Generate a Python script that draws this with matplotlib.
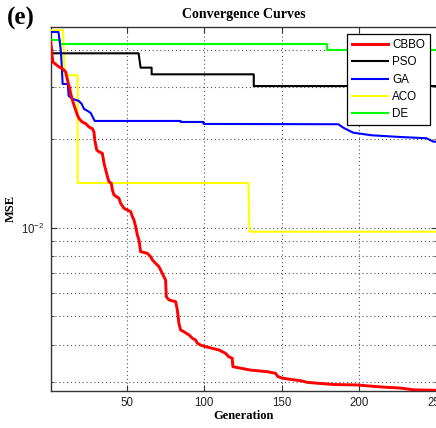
import matplotlib
matplotlib.use("Agg")
import matplotlib.pyplot as plt
from matplotlib.ticker import LogLocator, FixedLocator, NullFormatter, FixedFormatter

# ---------------- data ----------------
cbbo_gen = [1, 1.8, 2.5, 6.4, 8.6, 10.7, 11.1, 12.4, 13.3, 13.9, 15.0, 16.0, 17.1, 18.2, 19.3,
            21.4, 23.6, 25.7, 27.9, 28.9, 29.4, 30.7, 32.1, 34.3, 35.4, 36.5, 37.6, 38.6, 40.1,
            40.8, 41.8, 45.0, 46.1, 48.3, 50.5, 52.6, 53.7, 54.7, 55.8, 56.9, 57.9, 59.0, 63.3,
            65.5, 66.6, 68.7, 70.8, 71.9, 74.0, 75.1, 75.6, 77.3, 81.6, 82.7, 83.7, 84.8, 86.9,
            90.2, 92.4, 94.5, 95.6, 97.7, 100.9, 105.2, 109.5, 113.8, 115.9, 118.1, 118.5, 123.5,
            129.9, 140.7, 146.0, 147.5, 150.4, 155.7, 162.2, 166.5, 172.9, 183.6, 198.7, 205.2,
            215.9, 226.6, 235.2, 250]
cbbo_mse = [0.0426, 0.0385, 0.0364, 0.03505, 0.03459, 0.03371, 0.03285, 0.03077, 0.02960,
            0.02846, 0.02710, 0.02605, 0.02506, 0.02410, 0.02342, 0.02282, 0.02252, 0.02195,
            0.02166, 0.02111, 0.01983, 0.01834, 0.01809, 0.01787, 0.01653, 0.01569, 0.01489,
            0.01432, 0.01414, 0.01342, 0.01291, 0.01258, 0.01210, 0.01163, 0.01148, 0.01133,
            0.01090, 0.01062, 0.01008, 0.00945, 0.00909, 0.00829, 0.00819, 0.00797, 0.00777,
            0.00757, 0.00738, 0.00719, 0.00682, 0.00665, 0.00583, 0.00569, 0.00561, 0.00526,
            0.00474, 0.00450, 0.00444, 0.00433, 0.00422, 0.00416, 0.00406, 0.00400, 0.00395,
            0.00390, 0.00385, 0.00375, 0.00365, 0.00361, 0.00338, 0.00334, 0.00329, 0.00325,
            0.00321, 0.00313, 0.00309, 0.00306, 0.00303, 0.00299, 0.00297, 0.00294, 0.00293,
            0.00291, 0.00288, 0.00286, 0.00282, 0.00281]

pso_gen = [1, 2, 2, 57.7, 59, 66.1, 66.1, 132, 132, 250]
pso_mse = [0.0420, 0.0390, 0.0390, 0.0390, 0.03487, 0.03487, 0.0331, 0.0331, 0.0302, 0.0302]

ga_gen = [1, 6.0, 7.5, 8.1, 8.7, 12.0, 12.6, 15.2, 19.1, 21.0, 22.5, 24.9, 26.8, 28.1, 29.4,
          84.8, 84.8, 99.6, 99.6, 186.5, 189.7, 196.1, 207.9, 226.0, 243.4, 247.9, 250]
ga_mse = [0.04606, 0.04606, 0.04003, 0.03560, 0.03070, 0.03070, 0.02796, 0.02731, 0.02689,
          0.02627, 0.02526, 0.02486, 0.02448, 0.02373, 0.02300, 0.02300, 0.02282, 0.02282,
          0.02247, 0.02242, 0.02183, 0.02099, 0.02057, 0.0203, 0.0201, 0.01957, 0.01957]

aco_gen = [1, 8.9, 10.0, 18.4, 18.4, 128.5, 129.3, 250]
aco_mse = [0.04669, 0.04669, 0.03285, 0.03285, 0.01417, 0.01417, 0.00969, 0.00969]

de_gen = [1, 7.0, 7.0, 179.4, 179.4, 250]
de_mse = [0.04318, 0.04318, 0.0420, 0.0420, 0.0400, 0.0400]

labels = ["CBBO", "PSO", "GA", "ACO", "DE"]

# ---------------- figure ----------------
plt.rcParams['font.family'] = ['Liberation Sans', 'DejaVu Sans']
plt.rcParams['mathtext.default'] = 'regular'

W, H = 436, 428
fig = plt.figure(figsize=(W / 100, H / 100), dpi=100)
ax = fig.add_axes([50.7 / W, 1 - 391 / H, 386.0 / W, (391 - 26.7) / H])

l_cbbo, = ax.plot(cbbo_gen, cbbo_mse, color=(1, 0, 0), lw=2.1, zorder=6)
l_pso, = ax.plot(pso_gen, pso_mse, color='black', lw=1.5, zorder=4)
l_ga, = ax.plot(ga_gen, ga_mse, color=(0, 0, 1), lw=1.5, zorder=4)
l_aco, = ax.plot(aco_gen, aco_mse, color=(1, 1, 0), lw=1.5, zorder=3)
l_de, = ax.plot(de_gen, de_mse, color=(0, 1, 0), lw=1.5, zorder=3)

ax.set_yscale('log')
ax.set_xlim(1, 250)
ax.set_ylim(0.002795, 0.0480)

ax.xaxis.set_major_locator(FixedLocator([50, 100, 150, 200, 250]))
ax.yaxis.set_major_locator(FixedLocator([0.01]))
ax.yaxis.set_major_formatter(FixedFormatter(['$10^{-2}$']))
ax.yaxis.set_minor_locator(LogLocator(base=10, subs=[2, 3, 4, 5, 6, 7, 8, 9], numticks=20))
ax.yaxis.set_minor_formatter(NullFormatter())

ax.tick_params(axis='both', which='both', direction='in', top=True, right=True,
               labelsize=8.3, colors='#333333', labelcolor='#222222')
ax.tick_params(axis='both', which='major', length=4, pad=4)
ax.tick_params(axis='y', which='minor', length=2)

ax.grid(True, which='major', axis='both', linestyle=(0, (1, 2.5)), color='#555555', lw=0.8)
ax.grid(True, which='minor', axis='y', linestyle=(0, (1, 2.5)), color='#555555', lw=0.8)

for s in ax.spines.values():
    s.set_color('#333333')
    s.set_linewidth(1.0)

serif = ['Liberation Serif', 'DejaVu Serif']
ax.set_title("Convergence Curves", family=serif, fontweight='bold', fontsize=10, pad=6)
ax.set_xlabel("Generation", family=serif, fontweight='bold', fontsize=9, labelpad=1)
ax.set_ylabel("MSE", family=serif, fontweight='bold', fontsize=9, labelpad=3)

fig.text(7 / W, 1 - 18 / H, "(e)", family=serif, fontweight='bold', fontsize=18,
         ha='left', va='center')

leg = ax.legend([l_cbbo, l_pso, l_ga, l_aco, l_de], labels, loc='upper right',
                bbox_to_anchor=(1 - 6.5 / 386.0, 1 - 7.3 / 364.3), borderaxespad=0,
                fontsize=8.4, fancybox=False, framealpha=1, edgecolor='black',
                handlelength=3.1, handletextpad=0.4, labelspacing=0.46, borderpad=0.42)
leg.get_frame().set_linewidth(0.9)
leg.set_zorder(10)

fig.savefig("out.png", dpi=100)
